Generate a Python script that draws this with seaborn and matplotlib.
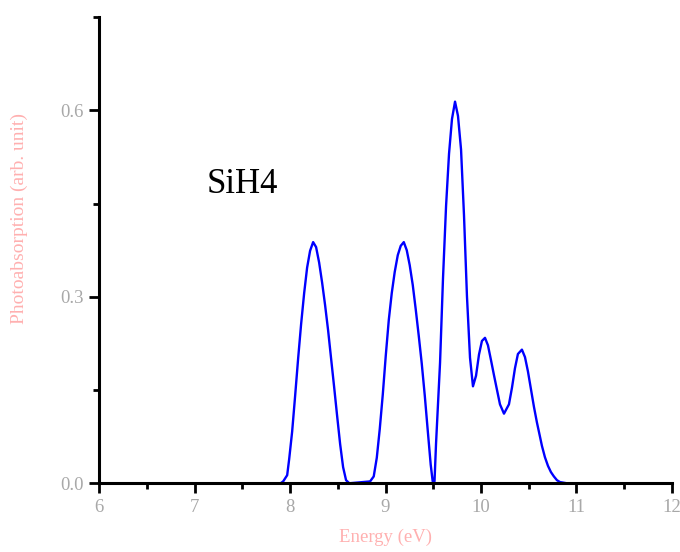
import matplotlib
matplotlib.use("Agg")
import matplotlib.pyplot as plt
from matplotlib.ticker import MultipleLocator
import numpy as np
import pandas as pd
import seaborn as sns

# SiH4 photoabsorption spectrum (arbitrary units) versus photon energy (eV)
energy = [
    7.90, 7.927, 7.969, 7.990, 8.021, 8.052, 8.084, 8.115, 8.147, 8.178, 8.209,
    8.241, 8.272, 8.304, 8.335, 8.366, 8.398, 8.429, 8.461, 8.492, 8.524,
    8.555, 8.586, 8.620,
    8.838, 8.876, 8.908, 8.939, 8.971, 9.002, 9.034, 9.065, 9.096, 9.128,
    9.159, 9.191, 9.222, 9.253, 9.285, 9.316, 9.348, 9.379, 9.411, 9.442,
    9.473, 9.494,
    9.513, 9.529, 9.571, 9.602, 9.634, 9.665, 9.696, 9.728, 9.759, 9.791,
    9.822, 9.853, 9.885, 9.916, 9.948, 9.979, 10.010, 10.042, 10.073, 10.105,
    10.136, 10.168, 10.199, 10.241, 10.293, 10.325, 10.356, 10.387, 10.429,
    10.461, 10.492, 10.524, 10.555, 10.586, 10.607, 10.639, 10.670, 10.702,
    10.733, 10.764, 10.796, 10.827, 10.900,
]
absorption = [
    0.000, 0.003, 0.013, 0.039, 0.083, 0.140, 0.201, 0.256, 0.306, 0.347, 0.374,
    0.388, 0.380, 0.355, 0.323, 0.287, 0.246, 0.201, 0.155, 0.109, 0.063,
    0.026, 0.005, 0.000,
    0.003, 0.011, 0.041, 0.087, 0.143, 0.205, 0.263, 0.306, 0.340, 0.367,
    0.382, 0.388, 0.375, 0.351, 0.319, 0.280, 0.237, 0.193, 0.141, 0.085,
    0.030, 0.003,
    0.003, 0.064, 0.194, 0.330, 0.446, 0.530, 0.586, 0.614, 0.591, 0.537,
    0.431, 0.301, 0.202, 0.156, 0.173, 0.207, 0.229, 0.234, 0.222, 0.198,
    0.174, 0.150, 0.127, 0.112, 0.127, 0.154, 0.185, 0.208, 0.215,
    0.203, 0.180, 0.151, 0.123, 0.098, 0.083, 0.060, 0.042, 0.028,
    0.018, 0.011, 0.005, 0.002, 0.000,
]

x_ticks = [6, 7, 8, 9, 10, 11, 12]
y_ticks = [0.0, 0.3, 0.6]
y_tick_labels = ["0.0", "0.3", "0.6"]

df = pd.DataFrame({"Energy (eV)": energy, "Photoabsorption (arb. unit)": absorption})

sns.set_style("ticks")
plt.rcParams["font.family"] = ["Liberation Serif", "DejaVu Serif"]

fig = plt.figure(figsize=(6.8, 5.52), dpi=100)
ax = fig.add_axes([0.146, 0.1245, 0.842, 0.8445])

sns.lineplot(data=df, x="Energy (eV)", y="Photoabsorption (arb. unit)",
             sort=False, color="#0000ff", linewidth=1.7, ax=ax, zorder=2)

ax.set_xlim(6, 12)
ax.set_ylim(0, 0.75)
ax.set_xticks(x_ticks)
ax.set_xticklabels([str(t) for t in x_ticks])
ax.set_yticks(y_ticks)
ax.set_yticklabels(y_tick_labels)
ax.xaxis.set_minor_locator(MultipleLocator(0.5))
ax.yaxis.set_minor_locator(MultipleLocator(0.15))

sns.despine(ax=ax)
for side in ("left", "bottom"):
    ax.spines[side].set_linewidth(2.2)
    ax.spines[side].set_color("black")
    ax.spines[side].set_zorder(3)

ax.tick_params(which="major", direction="out", length=7.5, width=2.0,
               color="black", labelsize=13.5, labelcolor="#a8a8a8", pad=4)
ax.tick_params(which="minor", direction="out", length=4.5, width=2.0,
               color="black")

ax.set_xlabel("Energy (eV)", fontsize=13.5, color="#ffb0b0")
ax.set_ylabel("Photoabsorption (arb. unit)", fontsize=14, color="#ffb0b0")
ax.xaxis.set_label_coords(0.5, -0.098)
ax.yaxis.set_label_coords(-0.124, 0.567)

ax.text(7.13, 0.467, "SiH4", fontsize=25, color="black",
        ha="left", va="baseline", transform=ax.transData)

fig.savefig("out.png", dpi=100)
